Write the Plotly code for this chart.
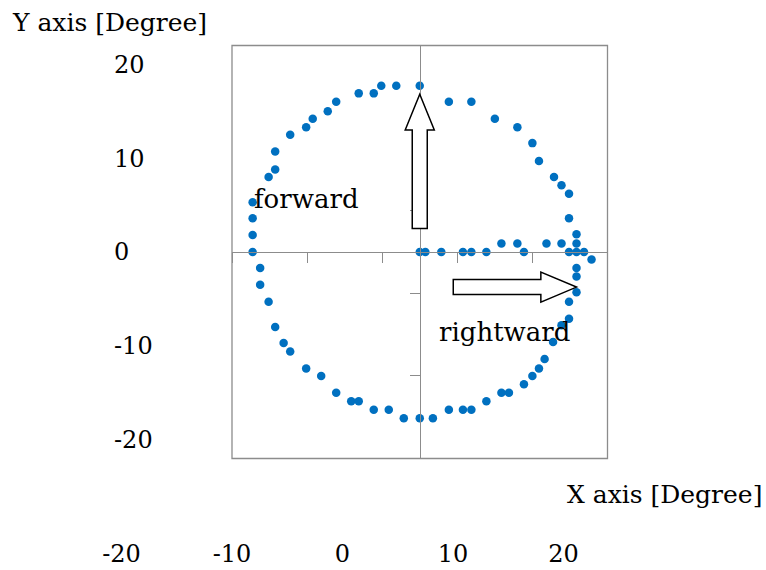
import plotly.graph_objects as go

# Measured gaze positions [degree]
x_deg = [
    -17.8, 0.0, 0.6, 2.3, 4.6, 5.5, 7.1, 11.1, 15.9, 16.7, 17.5,
    8.7, 10.4, 13.5, 15.1, 16.7,
    16.7, 15.9, 15.9, 15.1, 14.3, 12.7, 12.0, 10.4, 8.0, 5.5, 3.1, 0.0,
    -2.5, -4.1, -4.9, -6.5, -8.9, -9.8, -11.4, -12.1, -13.8, -15.4, -15.4,
    -16.1, -17.8, -17.8, -17.8,
    -17.0, -17.0, -16.1, -15.4, -14.5, -13.8, -12.1, -10.5, -8.9, -7.3,
    -6.5, -4.9, -3.3, -1.7, 0.0, 1.4, 3.1, 4.6, 5.5, 7.1, 8.7, 9.5, 11.1,
    12.0, 12.7, 13.3, 14.2, 15.1, 15.9, 15.9, 16.7, 16.7, 16.7, 18.3,
]
y_deg = [
    0.0, 0.0, 0.0, 0.0, 0.0, 0.0, 0.0, 0.0, 0.0, 0.0, 0.0,
    0.9, 0.9, 0.9, 0.9, 0.9,
    1.9, 3.6, 6.2, 7.1, 8.0, 9.7, 11.6, 13.3, 14.2, 16.0, 16.0, 17.7,
    17.7, 17.7, 16.9, 16.9, 16.0, 15.0, 14.2, 13.3, 12.5, 10.7, 8.8,
    8.0, 5.3, 3.6, 1.8,
    -1.7, -3.5, -5.3, -8.0, -9.7, -10.6, -12.4, -13.2, -15.0, -15.9,
    -15.9, -16.8, -16.8, -17.7, -17.7, -17.7, -16.8, -16.8, -16.8, -15.9,
    -15.0, -15.0, -14.1, -13.2, -12.4, -11.4, -9.6, -7.8, -7.1, -5.3,
    -4.3, -2.6, -1.7, -0.8,
]

# Axis scales and labels
x_range = [-20, 20]
y_range = [-22, 22]
label_vals = [-20, -10, 0, 10, 20]
label_text = ["-20", "-10", "0", "10", "20"]

FONT = "DejaVu Serif"
W, H = 766, 570
GRAY = "#8c8c8c"

# plot frame in pixels
left_px, right_px, top_px, bottom_px = 232, 607.5, 45.5, 458.5
xdom = [left_px / W, right_px / W]
ydom = [1 - bottom_px / H, 1 - top_px / H]


def block_arrow(x0, y0, x1, y1, shaft, head, head_len):
    """SVG path of a hollow block arrow from (x0, y0) to the tip (x1, y1)."""
    dx, dy = x1 - x0, y1 - y0
    length = (dx ** 2 + dy ** 2) ** 0.5
    ux, uy = dx / length, dy / length
    nx, ny = -uy, ux
    bx, by = x1 - ux * head_len, y1 - uy * head_len
    pts = [
        (x0 + nx * shaft, y0 + ny * shaft),
        (bx + nx * shaft, by + ny * shaft),
        (bx + nx * head, by + ny * head),
        (x1, y1),
        (bx - nx * head, by - ny * head),
        (bx - nx * shaft, by - ny * shaft),
        (x0 - nx * shaft, y0 - ny * shaft),
    ]
    return "M " + " L ".join(f"{px:.3f},{py:.3f}" for px, py in pts) + " Z"


fig = go.Figure()

fig.add_trace(go.Scatter(
    x=x_deg, y=y_deg, mode="markers",
    marker=dict(color="#0070C0", size=8.5, line=dict(width=0)),
    showlegend=False, hoverinfo="x+y",
))
# carriers for the outer label axes
fig.add_trace(go.Scatter(x=[None], y=[None], xaxis="x", yaxis="y2",
                         showlegend=False, hoverinfo="skip"))
fig.add_trace(go.Scatter(x=[None], y=[None], xaxis="x2", yaxis="y",
                         showlegend=False, hoverinfo="skip"))

mid_y = (ydom[0] + ydom[1]) / 2
mid_x = (xdom[0] + xdom[1]) / 2

fig.update_layout(
    width=W, height=H,
    margin=dict(l=0, r=0, t=0, b=0, autoexpand=False),
    paper_bgcolor="white",
    plot_bgcolor="rgba(0,0,0,0)",
    font=dict(family=FONT, color="black"),
    xaxis=dict(
        domain=xdom, range=x_range, anchor="free", position=mid_y,
        showline=True, linecolor=GRAY, linewidth=1,
        ticks="outside", ticklen=10, tickcolor=GRAY, tickwidth=1,
        tick0=-20, dtick=8, showticklabels=False,
        showgrid=False, zeroline=False,
    ),
    yaxis=dict(
        domain=ydom, range=y_range, anchor="free", position=mid_x,
        showline=True, linecolor=GRAY, linewidth=1,
        ticks="outside", ticklen=10, tickcolor=GRAY, tickwidth=1,
        tick0=-22, dtick=8.8, showticklabels=False,
        showgrid=False, zeroline=False,
    ),
    yaxis2=dict(
        overlaying="y", range=y_range, anchor="free", side="right",
        position=113 / W,
        tickmode="array", tickvals=label_vals, ticktext=label_text,
        ticks="", showline=False, showgrid=False, zeroline=False,
        tickfont=dict(family=FONT, size=24, color="black"),
    ),
    xaxis2=dict(
        domain=[121.5 / W, 563.5 / W], range=x_range,
        anchor="free", position=1 - 536.5 / H, side="bottom",
        tickmode="array", tickvals=label_vals, ticktext=label_text,
        ticks="", showline=False, showgrid=False, zeroline=False,
        tickfont=dict(family=FONT, size=24, color="black"),
    ),
    shapes=[
        dict(type="rect", xref="paper", yref="paper",
             x0=xdom[0], x1=xdom[1], y0=ydom[0], y1=ydom[1],
             line=dict(color=GRAY, width=1.3), layer="above"),
        dict(type="path", xref="x", yref="y",
             path=block_arrow(0, 2.5, 0, 16.8, 0.8, 1.55, 3.8),
             fillcolor="white", line=dict(color="black", width=1.5),
             layer="above"),
        dict(type="path", xref="x", yref="y",
             path=block_arrow(3.57, -3.74, 16.7, -3.74, 0.8, 1.6, 3.8),
             fillcolor="white", line=dict(color="black", width=1.5),
             layer="above"),
    ],
    annotations=[
        dict(text="Y axis [Degree]", xref="paper", yref="paper",
             x=10 / W, y=1 - 22 / H, xanchor="left", yanchor="middle",
             showarrow=False, font=dict(size=25)),
        dict(text="X axis [Degree]", xref="paper", yref="paper",
             x=664 / W, y=1 - 494 / H, xanchor="center", yanchor="middle",
             showarrow=False, font=dict(size=25)),
        dict(text="forward", xref="x", yref="y", x=-17.9, y=5.7,
             xanchor="left", yanchor="middle", showarrow=False,
             font=dict(size=26)),
        dict(text="rightward", xref="x", yref="y", x=1.8, y=-8.5,
             xanchor="left", yanchor="middle", showarrow=False,
             font=dict(size=26)),
    ],
)

fig.write_html("out.html")
